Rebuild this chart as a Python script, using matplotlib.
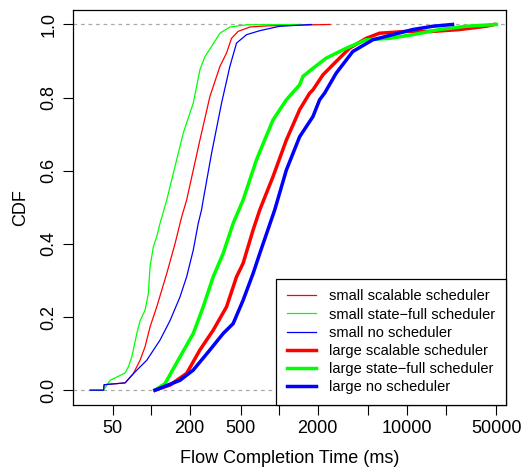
import matplotlib
matplotlib.use("Agg")
from matplotlib import pyplot as plt

plt.rcParams['font.family'] = ['Liberation Sans', 'DejaVu Sans']

# small flows (thin lines)
small_scal_x = [33.5, 42.5, 43, 62.7, 72.8, 82.1, 89.8, 98.2, 110.8, 132.6, 153.8, 173.5, 189.7, 240.9, 288.3, 345, 389, 425.5, 478.9, 590.8, 797.4, 2500]
small_scal_y = [0, 0, 0.015, 0.02, 0.046, 0.082, 0.119, 0.173, 0.228, 0.319, 0.40, 0.474, 0.52, 0.684, 0.803, 0.885, 0.922, 0.962, 0.981, 0.993, 0.996, 1.0]

small_full_x = [33.5, 42.5, 47.9, 62.7, 66.5, 70.7, 77.4, 82.1, 89.8, 95.3, 98.2, 104.2, 110.8, 117.5, 126, 132.6, 178.5, 213.7, 240.9, 263.5, 297.2, 345, 412.7, 556.9, 1500]
small_full_y = [0, 0, 0.027, 0.047, 0.064, 0.091, 0.155, 0.19, 0.219, 0.265, 0.338, 0.392, 0.42, 0.456, 0.493, 0.52, 0.703, 0.785, 0.876, 0.912, 0.94, 0.976, 0.993, 0.999, 1.0]

small_none_x = [33.5, 42.5, 43, 62.7, 75.0, 92.6, 117.5, 140.6, 168.3, 189.7, 213.7, 233.7, 248, 255.6, 297.2, 355.6, 412.7, 465.4, 556.9, 707.2, 1012, 1800]
small_none_y = [0, 0, 0.015, 0.02, 0.05, 0.082, 0.137, 0.19, 0.255, 0.31, 0.383, 0.456, 0.493, 0.52, 0.648, 0.785, 0.885, 0.949, 0.972, 0.983, 0.995, 1.0]

# large flows (thick lines)
large_scal_x = [107.4, 140.6, 189.7, 240.9, 305.9, 389, 465.4, 524, 627, 707.2, 897.5, 1141, 1449, 1734, 1840, 2201, 2799, 3554, 4796, 6088, 9829, 15841, 25580, 41305, 48000]
large_scal_y = [0, 0.014, 0.046, 0.11, 0.164, 0.228, 0.31, 0.347, 0.438, 0.493, 0.584, 0.684, 0.767, 0.812, 0.821, 0.862, 0.899, 0.935, 0.962, 0.976, 0.981, 0.981, 0.986, 0.995, 1.0]

large_full_x = [107.4, 128.5, 168.3, 213.7, 255.6, 305.9, 366, 437.9, 524, 666.5, 897.5, 1141, 1449, 1538, 1840, 2339, 3350, 4796, 7286, 11066, 17865, 28847, 50000]
large_full_y = [0, 0.018, 0.091, 0.155, 0.228, 0.31, 0.374, 0.456, 0.52, 0.63, 0.739, 0.794, 0.835, 0.858, 0.88, 0.908, 0.935, 0.958, 0.962, 0.972, 0.986, 0.995, 1.0]

large_none_x = [107.4, 168.3, 213.7, 288.3, 366, 437.9, 524, 627, 707.2, 925.3, 1141, 1449, 1840, 2075, 2269, 2799, 3771, 5398, 7727, 11066, 15841, 22683]
large_none_y = [0, 0.027, 0.055, 0.11, 0.155, 0.182, 0.246, 0.319, 0.374, 0.493, 0.602, 0.693, 0.748, 0.794, 0.812, 0.867, 0.926, 0.958, 0.972, 0.986, 0.995, 1.0]

labels = ["small scalable scheduler", "small state\u2212full scheduler", "small no scheduler",
          "large scalable scheduler", "large state\u2212full scheduler", "large no scheduler"]

x_ticks = [50, 100, 200, 500, 1000, 2000, 5000, 10000, 20000, 50000]
x_ticklabels = ["50", "", "200", "500", "", "2000", "", "10000", "", "50000"]

fig = plt.figure(figsize=(5.32, 4.68), dpi=100)
ax = fig.add_axes([0.137, 0.135, 0.814, 0.844])

ax.axhline(0, color='#aaaaaa', ls=(0, (3, 3)), lw=0.9, zorder=0)
ax.axhline(1, color='#aaaaaa', ls=(0, (3, 3)), lw=0.9, zorder=0)

ax.plot(small_scal_x, small_scal_y, color='#ff0000', lw=0.9, label=labels[0])
ax.plot(small_full_x, small_full_y, color='#00ff00', lw=0.9, label=labels[1])
ax.plot(small_none_x, small_none_y, color='#0000ff', lw=0.9, label=labels[2])
ax.plot(large_scal_x, large_scal_y, color='#ff0000', lw=2.5, label=labels[3])
ax.plot(large_full_x, large_full_y, color='#00ff00', lw=2.5, label=labels[4])
ax.plot(large_none_x, large_none_y, color='#0000ff', lw=2.5, label=labels[5])

ax.set_xscale('log')
ax.set_xlim(24.5, 59300)
ax.set_ylim(-0.04, 1.04)
ax.set_xticks(x_ticks)
ax.set_xticklabels(x_ticklabels)
ax.minorticks_off()
ax.set_yticks([0, 0.2, 0.4, 0.6, 0.8, 1.0])
ax.set_yticklabels(["0.0", "0.2", "0.4", "0.6", "0.8", "1.0"], rotation=90, va='center')
ax.tick_params(axis='both', labelsize=13, length=7, width=0.8, direction='out')
ax.tick_params(axis='x', pad=4)
ax.tick_params(axis='y', pad=4)
for s in ax.spines.values():
    s.set_linewidth(0.9)

ax.set_xlabel("Flow Completion Time (ms)", fontsize=13, labelpad=9)
ax.set_ylabel("CDF", fontsize=13, labelpad=8)

leg = ax.legend(loc='lower right', bbox_to_anchor=(1.0, 0.0), fontsize=10.5, frameon=True,
                fancybox=False, edgecolor='black', framealpha=1, handlelength=2.0,
                handletextpad=0.85, labelspacing=0.28, borderpad=0.75, borderaxespad=0)
leg.get_frame().set_linewidth(0.9)

fig.savefig("out.png", dpi=100)
